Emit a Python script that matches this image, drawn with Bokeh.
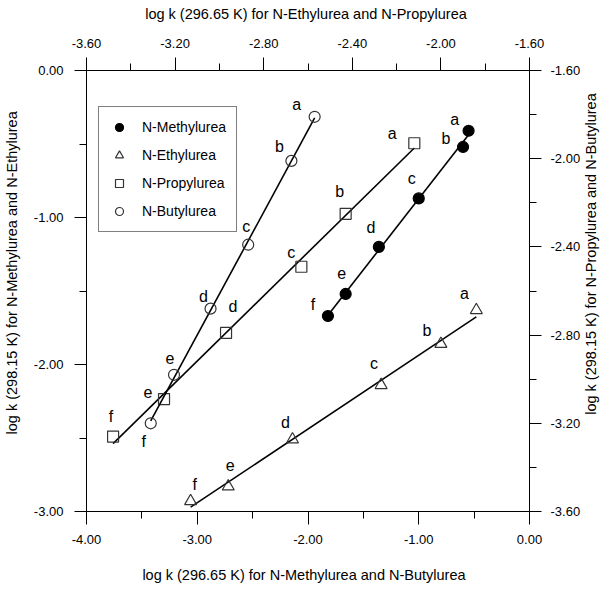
import math
import numpy as np
from bokeh.plotting import figure
from bokeh.models import (Range1d, LinearAxis, FixedTicker, PrintfTickFormatter,
                          ColumnDataSource, Legend, LegendItem)
from bokeh.core.properties import value
from bokeh.embed import file_html
from bokeh.resources import INLINE

# ---------------- data ----------------
point_labels = ["a", "b", "c", "d", "e", "f"]

methyl_x = [-0.55, -0.60, -1.00, -1.36, -1.66, -1.82]
methyl_y = [-0.41, -0.52, -0.87, -1.20, -1.52, -1.67]

ethyl_x = [-1.84, -2.00, -2.27, -2.67, -2.96, -3.13]
ethyl_y = [-1.63, -1.86, -2.14, -2.51, -2.83, -2.93]

propyl_x = [-2.12, -2.43, -2.63, -2.97, -3.25, -3.48]
propyl_y = [-1.93, -2.25, -2.49, -2.79, -3.09, -3.26]

butyl_x = [-1.94, -2.15, -2.54, -2.88, -3.21, -3.42]
butyl_y = [-1.81, -2.01, -2.39, -2.68, -2.98, -3.20]

bottom_ticks = [-4.0, -3.0, -2.0, -1.0, 0.0]
left_ticks = [-3.0, -2.0, -1.0, 0.0]
top_ticks = [-3.6, -3.2, -2.8, -2.4, -2.0, -1.6]
right_ticks = [-3.6, -3.2, -2.8, -2.4, -2.0, -1.6]

bottom_title = "log  k  (296.65 K) for N-Methylurea and N-Butylurea"
left_title = "log k  (298.15 K) for N-Methylurea and N-Ethylurea"
top_title = "log k  (296.65 K) for N-Ethylurea and N-Propylurea"
right_title = "log k  (298.15 K) for N-Propylurea and N-Butylurea"

# label offsets in screen pixels (layout only)
methyl_off = [(-14, -11), (-17, -8), (-7, -20), (-8, -19), (-4, -21), (-15, -11)]
ethyl_off = [(-12, -17), (-14, -13), (-7, -22), (-7, -17), (2, -22), (4, -17)]
propyl_off = [(-22, -10), (-6, -22), (-10, -14), (7, -26), (-16, -7), (-2, -20)]
butyl_off = [(-18, -12), (-12, -14), (-2, -18), (-7, -12), (-4, -17), (-7, 18)]

FONT = "Liberation Sans"
FW, FH = 443, 441
NBSP = "\u00a0"

p = figure(width=590, height=583, output_backend="svg", toolbar_location=None,
           x_range=Range1d(-4.0, 0.0), y_range=Range1d(-3.0, 0.0),
           min_border_left=78, min_border_right=69, min_border_top=70, min_border_bottom=72,
           frame_width=FW, frame_height=FH)
p.extra_x_ranges = {"top": Range1d(-3.6, -1.6)}
p.extra_y_ranges = {"right": Range1d(-3.6, -1.6)}
p.xgrid.visible = False
p.ygrid.visible = False
p.outline_line_color = "black"
p.outline_line_width = 1
p.background_fill_color = "white"
p.border_fill_color = "white"

bottom_axis = p.below[0]
left_axis = p.left[0]
top_axis = LinearAxis(x_range_name="top")
right_axis = LinearAxis(y_range_name="right")
p.add_layout(top_axis, "above")
p.add_layout(right_axis, "right")

def style_axis(ax, ticks, title, tick_out, standoff_label, standoff_title):
    step = ticks[1] - ticks[0]
    ax.ticker = FixedTicker(ticks=ticks,
                            minor_ticks=[t + step / 2 for t in ticks[:-1]])
    ax.formatter = PrintfTickFormatter(format="%.2f")
    ax.axis_line_color = "black"
    ax.axis_line_width = 1
    ax.major_tick_line_color = "black"
    ax.minor_tick_line_color = "black"
    ax.major_tick_out = tick_out
    ax.major_tick_in = 0
    ax.minor_tick_out = 7
    ax.minor_tick_in = 0
    ax.major_label_text_font = FONT
    ax.major_label_text_font_size = "13px"
    ax.major_label_text_color = "black"
    ax.major_label_standoff = standoff_label
    ax.axis_label = title
    ax.axis_label_text_font = FONT
    ax.axis_label_text_font_size = "14.5px"
    ax.axis_label_text_font_style = "normal"
    ax.axis_label_text_color = "black"
    ax.axis_label_standoff = standoff_title

style_axis(bottom_axis, bottom_ticks, bottom_title, 13, 10, 20)
# the left title sits a little above the frame centre in the reference
style_axis(left_axis, left_ticks, NBSP * 10 + left_title, 12, 11, 11)
style_axis(top_axis, top_ticks, top_title, 13, 10, 14)
# right-hand title reads bottom to top; anchored at the bottom of the axis,
# with leading spacing so that it rises from about 100 px above the bottom
style_axis(right_axis, right_ticks, NBSP * 24 + right_title, 12, 9, 8)
right_axis.axis_label_orientation = math.pi / 2
right_axis.axis_label_align = "start"

series = [
    ("N-Methylurea", methyl_x, methyl_y, "default", "default", "circle", "black", methyl_off),
    ("N-Ethylurea", ethyl_x, ethyl_y, "top", "default", "triangle", None, ethyl_off),
    ("N-Propylurea", propyl_x, propyl_y, "top", "right", "square", None, propyl_off),
    ("N-Butylurea", butyl_x, butyl_y, "default", "right", "circle", None, butyl_off),
]

legend_items = []
for name, xs, ys, xr, yr, marker, fill, offs in series:
    xs_a = np.array(xs)
    ys_a = np.array(ys)
    slope, icpt = np.polyfit(xs_a, ys_a, 1)
    lx = [xs_a.min(), xs_a.max()]
    ly = [slope * v + icpt for v in lx]
    p.line(lx, ly, x_range_name=xr, y_range_name=yr, line_color="black", line_width=1.6)
    src = ColumnDataSource(dict(x=xs, y=ys, t=point_labels,
                                dx=[o[0] for o in offs], dy=[o[1] for o in offs]))
    r = p.scatter("x", "y", source=src, x_range_name=xr, y_range_name=yr,
                  marker=marker, size=11 if marker != "triangle" else 12,
                  line_color="black" if fill else "#333333", line_width=1.2,
                  fill_color=fill if fill else None)
    legend_items.append(LegendItem(label=name, renderers=[r]))
    p.text("x", "y", text="t", source=src, x_range_name=xr, y_range_name=yr,
           x_offset="dx", y_offset="dy", text_font=value(FONT), text_font_size="16px",
           text_align="center", text_baseline="middle", text_color="black")

legend = Legend(items=legend_items, location=(12, 279))
legend.label_text_font = FONT
legend.label_text_font_size = "14px"
legend.label_text_color = "black"
legend.padding = 10
legend.glyph_width = 20
legend.label_standoff = 13
legend.label_height = 20
legend.glyph_height = 20
legend.spacing = 8
legend.margin = 0
legend.border_line_color = "black"
legend.border_line_width = 1
legend.background_fill_alpha = 1.0
p.add_layout(legend, "center")

open("out.html", "w").write(file_html(p, INLINE))
